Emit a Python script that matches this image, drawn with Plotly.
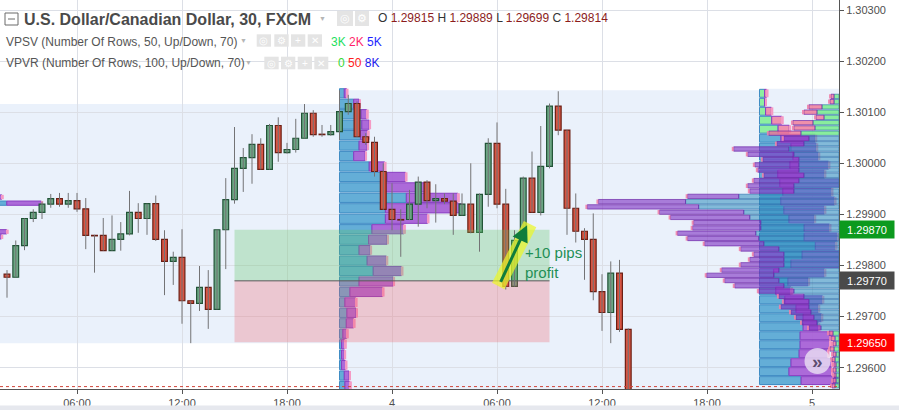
import numpy as np
import plotly.graph_objects as go

FONT = "Liberation Sans"

# ---------------- axes ----------------
X_RANGE = [1.6, 49.543]              # hours since 00:00 of the day before "4"
TICK_HOURS = [6, 12, 18, 24, 30, 36, 42, 48]
TICK_TEXT = ["06:00", "12:00", "18:00", "4", "06:00", "12:00", "18:00", "5"]
PRICE_RANGE = [1.295583, 1.303196]
PRICE_TICKS = [1.296, 1.297, 1.298, 1.299, 1.300, 1.301, 1.302, 1.303]

# ---------------- 30-minute candles ----------------
FIRST_BAR_HOUR = 2.0
BAR_HOURS = 0.5
OPEN = [1.29783, 1.29777, 1.29839, 1.29892, 1.29904, 1.29920, 1.29931, 1.29920, 1.29927, 1.29911,
        1.29859, 1.29859, 1.29829, 1.29851, 1.29862, 1.29904, 1.29892, 1.29921, 1.29851, 1.29808,
        1.29816, 1.29731, 1.29726, 1.29757, 1.29714, 1.29870, 1.29929, 1.29990, 1.30011, 1.30037,
        1.29988, 1.30074, 1.30021, 1.30027, 1.30049, 1.30098, 1.30057, 1.30056, 1.30062, 1.30101,
        1.30117, 1.30052, 1.30041, 1.29984, 1.29910, 1.29890, 1.29890, 1.29920, 1.29963, 1.29927,
        1.29931, 1.29926, 1.29898, 1.29920, 1.29865, 1.29939, 1.30039, 1.29920, 1.29759, 1.29849,
        1.29971, 1.29904, 1.29994, 1.30112, 1.30065, 1.29912, 1.29867, 1.29851, 1.29749, 1.29708,
        1.29785, 1.29675]
HIGH = [1.29791, 1.29849, 1.29892, 1.29910, 1.29925, 1.29940, 1.29942, 1.29942, 1.29942, 1.29932,
        1.29860, 1.29893, 1.29898, 1.29885, 1.29946, 1.29922, 1.29921, 1.29937, 1.29869, 1.29827,
        1.29871, 1.29731, 1.29799, 1.29791, 1.29870, 1.29971, 1.30071, 1.30030, 1.30057, 1.30049,
        1.30077, 1.30090, 1.30040, 1.30087, 1.30116, 1.30104, 1.30075, 1.30075, 1.30143, 1.30134,
        1.30121, 1.30059, 1.30052, 1.30000, 1.29961, 1.29910, 1.29948, 1.29974, 1.29967, 1.29959,
        1.29941, 1.29941, 1.29941, 1.30000, 1.29941, 1.30049, 1.30080, 1.29950, 1.29869, 1.29974,
        1.30023, 1.30073, 1.30117, 1.30141, 1.30065, 1.29941, 1.29873, 1.29902, 1.29783, 1.29808,
        1.29811, 1.29677]
LOW = [1.29737, 1.29777, 1.29830, 1.29885, 1.29891, 1.29913, 1.29915, 1.29913, 1.29905, 1.29832,
       1.29786, 1.29829, 1.29829, 1.29829, 1.29859, 1.29864, 1.29860, 1.29848, 1.29742, 1.29762,
       1.29686, 1.29648, 1.29711, 1.29676, 1.29714, 1.29793, 1.29921, 1.29944, 1.29960, 1.29988,
       1.29988, 1.30003, 1.30019, 1.30021, 1.30049, 1.30052, 1.30052, 1.30054, 1.30045, 1.30095,
       1.30052, 1.30036, 1.29974, 1.29909, 1.29869, 1.29817, 1.29889, 1.29876, 1.29912, 1.29884,
       1.29920, 1.29860, 1.29898, 1.29863, 1.29827, 1.29915, 1.29912, 1.29753, 1.29759, 1.29849,
       1.29904, 1.29898, 1.29990, 1.30055, 1.29860, 1.29845, 1.29772, 1.29732, 1.29672, 1.29648,
       1.29670, 1.29540]
CLOSE = [1.29777, 1.29839, 1.29892, 1.29904, 1.29920, 1.29931, 1.29920, 1.29927, 1.29911, 1.29859,
         1.29858, 1.29829, 1.29851, 1.29862, 1.29904, 1.29892, 1.29921, 1.29851, 1.29808, 1.29816,
         1.29731, 1.29726, 1.29757, 1.29714, 1.29870, 1.29929, 1.29990, 1.30011, 1.30037, 1.29988,
         1.30074, 1.30021, 1.30027, 1.30049, 1.30098, 1.30056, 1.30056, 1.30062, 1.30101, 1.30117,
         1.30052, 1.30041, 1.29984, 1.29910, 1.29890, 1.29889, 1.29920, 1.29963, 1.29927, 1.29931,
         1.29926, 1.29898, 1.29920, 1.29865, 1.29939, 1.30039, 1.29920, 1.29759, 1.29849, 1.29971,
         1.29904, 1.29994, 1.30112, 1.30065, 1.29912, 1.29867, 1.29851, 1.29749, 1.29708, 1.29785,
         1.29675, 1.29545]
LAST_LINE = 1.29563

# ---------------- session volume profiles (VPSV) ----------------
SESSION_START = [-3.0, 21.0, 45.0]
SESSION_HOURS = 24.0
VPSV_WIDTH_FRAC = 0.29

S1_PRICES = [1.29934, 1.29922, 1.29866, 1.29856]
S1_UP = [450, 885, 500, 450]
S1_DOWN = [385, 350, 385, 380]

S2_TOP, S2_ROW = 1.30137, 0.0002046
S2_UP = [47, 140, 213, 220, 207, 193, 140, 293, 470, 453, 660, 453, 453, 320, 287, 193, 273, 333,
         193, 103, 53, 73, 67, 33, 20, 20, 20, 47, 53]
S2_DOWN = [23, 53, 57, 73, 73, 80, 113, 153, 183, 410, 510, 750, 417, 317, 183, 110, 190, 280,
           337, 323, 107, 90, 73, 40, 33, 27, 40, 47, 50]

S3_TOP, S3_ROW = 1.30137, 0.0001757
S3_UP = [50, 50, 60, 120, 183, 210, 310, 330, 300, 180, 200, 230, 210, 240, 290, 440, 440, 550,
         420, 310, 140, 280, 160, 250, 360, 430, 430, 400, 400, 390, 310, 290, 410]
S3_DOWN = [20, 5, 57, 100, 110, 340, 250, 250, 380, 460, 1000, 480, 530, 400, 250, 250, 330, 200,
           370, 480, 500, 200, 150, 370, 220, 180, 150, 310, 290, 280, 400, 420, 370]
S3_VALUE_AREA = (5, 32)

# ---------------- visible range volume profile (VPVR) ----------------
VPVR_TOP, VPVR_ROW = 1.30131, 0.000103
VPVR_WIDTH_FRAC = 0.30
VPVR_UP = [50, 50, 170, 220, 150, 260, 240, 380, 300, 350, 500, 450, 400, 400, 400, 350, 400, 450,
           450, 1000, 1530, 1400, 950, 890, 780, 780, 830, 800, 750, 600, 550, 550, 550, 600, 650,
           600, 550, 450, 350, 300, 300, 280, 250, 220, 180, 60, 40, 30, 50, 30, 40, 30, 30, 30, 30, 40]
VPVR_DOWN = [30, 40, 130, 130, 80, 200, 210, 320, 250, 270, 550, 460, 360, 440, 410, 400, 450, 460,
             440, 510, 870, 1110, 840, 790, 670, 680, 780, 710, 590, 380, 300, 340, 430, 570, 670,
             540, 490, 350, 250, 250, 280, 200, 180, 150, 120, 40, 40, 30, 40, 30, 30, 20, 30, 20, 30, 30]
VPVR_VALUE_AREA = (8, 44)

# ---------------- long position tool ----------------
POS_START, POS_END = 15.0, 33.0
ENTRY, TARGET, STOP = 1.29770, 1.29870, 1.29650

# ---------------- colours ----------------
UP_BODY, UP_EDGE = "#6BA583", "#225437"
DN_BODY, DN_EDGE = "#D75442", "#6B1F14"
WICK = "#737375"
SESSION_BG = "#eaf1fb"
GRID = "#dcdfe6"

PLOT_W, PLOT_H = 839, 389

times = FIRST_BAR_HOUR + BAR_HOURS * np.arange(len(OPEN))
fig = go.Figure()


def rows(top, step, n):
    return top - step * np.arange(n)


def add_profile(prices, up, down, anchor, width_h, direction, step, up_cols, dn_cols,
                up_line, dn_line, tip_col, thick_frac=0.88):
    up = np.asarray(up, float)
    dn = np.asarray(down, float)
    scale = width_h / (up + dn).max()
    ul, dl = up * scale, dn * scale
    n = len(up)
    thick = step * thick_frac
    d = direction
    common = dict(orientation="h", width=thick, hoverinfo="skip", showlegend=False)
    fig.add_trace(go.Bar(y=prices, x=d * ul, base=[anchor] * n,
                         marker=dict(color=up_cols, line=dict(color=up_line, width=1)), **common))
    fig.add_trace(go.Bar(y=prices, x=d * dl, base=anchor + d * ul,
                         marker=dict(color=dn_cols, line=dict(color=dn_line, width=1)), **common))
    fig.add_trace(go.Bar(y=prices, x=[d * 0.11] * n, base=anchor + d * (ul + dl),
                         marker=dict(color=tip_col, line=dict(width=0)), **common))


# session background boxes
sess_bounds = SESSION_START + [SESSION_START[-1] + SESSION_HOURS]
for k in range(2):
    m = (times >= sess_bounds[k]) & (times < sess_bounds[k + 1])
    hi = max(np.array(HIGH)[m])
    lo = min(np.array(LOW)[m])
    fig.add_shape(type="rect", layer="below", xref="x", yref="y",
                  x0=max(sess_bounds[k], X_RANGE[0] - 1), x1=sess_bounds[k + 1],
                  y0=lo, y1=hi, fillcolor=SESSION_BG, line=dict(width=0))
fig.add_shape(type="rect", layer="below", xref="x", yref="y",
              x0=sess_bounds[2], x1=X_RANGE[1] + 1, y0=PRICE_RANGE[0] - 0.001,
              y1=S3_TOP + S3_ROW / 2, fillcolor=SESSION_BG, line=dict(width=0))

VA_UP, VA_DN = "rgba(88,168,212,0.92)", "rgba(166,94,214,0.92)"
OUT_UP, OUT_DN = "rgba(130,238,150,0.9)", "rgba(240,128,160,0.85)"
vpsv_w = VPSV_WIDTH_FRAC * SESSION_HOURS

add_profile(S1_PRICES, S1_UP, S1_DOWN, SESSION_START[0], vpsv_w, 1, 0.000095,
            VA_UP, VA_DN, "#3f8cc4", "#8a3fc2", "#f59ac4")
s2p = rows(S2_TOP, S2_ROW, len(S2_UP))
add_profile(s2p, S2_UP, S2_DOWN, SESSION_START[1], vpsv_w, 1, S2_ROW,
            VA_UP, VA_DN, "#3f8cc4", "#8a3fc2", "#f59ac4")
s3p = rows(S3_TOP, S3_ROW, len(S3_UP))
va3 = [S3_VALUE_AREA[0] <= i <= S3_VALUE_AREA[1] for i in range(len(S3_UP))]
add_profile(s3p, S3_UP, S3_DOWN, SESSION_START[2], vpsv_w, 1, S3_ROW,
            [VA_UP if v else OUT_UP for v in va3], [VA_DN if v else OUT_DN for v in va3],
            "#3f8cc4", "#8a3fc2", "#f59ac4")
vp = rows(VPVR_TOP, VPVR_ROW, len(VPVR_UP))
vav = [VPVR_VALUE_AREA[0] <= i <= VPVR_VALUE_AREA[1] for i in range(len(VPVR_UP))]
add_profile(vp, VPVR_UP, VPVR_DOWN, X_RANGE[1], VPVR_WIDTH_FRAC * (X_RANGE[1] - X_RANGE[0]), -1,
            VPVR_ROW,
            ["rgba(45,140,190,0.55)" if v else "rgba(120,236,140,0.85)" for v in vav],
            ["rgba(128,52,196,0.62)" if v else "rgba(240,120,150,0.8)" for v in vav],
            "rgba(40,110,170,0.6)", "rgba(110,40,170,0.7)", "rgba(240,130,170,0.9)", 0.82)

# long position tool
fig.add_trace(go.Scatter(x=[POS_START, POS_END, POS_END, POS_START, POS_START],
                         y=[ENTRY, ENTRY, TARGET, TARGET, ENTRY], mode="lines", fill="toself",
                         fillcolor="rgba(92,195,99,0.30)", line=dict(width=0),
                         hoverinfo="skip", showlegend=False))
fig.add_trace(go.Scatter(x=[POS_START, POS_END, POS_END, POS_START, POS_START],
                         y=[STOP, STOP, ENTRY, ENTRY, STOP], mode="lines", fill="toself",
                         fillcolor="rgba(238,89,99,0.28)", line=dict(width=0),
                         hoverinfo="skip", showlegend=False))
fig.add_trace(go.Scatter(x=[POS_START, POS_END], y=[ENTRY, ENTRY], mode="lines",
                         line=dict(color="#5a5a5a", width=1), hoverinfo="skip", showlegend=False))

# candles: wicks first, then bodies (bars give exact body width)
wx, wy = [], []
for t, h, l in zip(times, HIGH, LOW):
    wx += [t, t, None]
    wy += [h, l, None]
fig.add_trace(go.Scatter(x=wx, y=wy, mode="lines", line=dict(color=WICK, width=1),
                         hoverinfo="skip", showlegend=False))
o_arr, c_arr = np.array(OPEN), np.array(CLOSE)
rising = c_arr > o_arr
body_lo = np.minimum(o_arr, c_arr)
body_h = np.maximum(np.abs(c_arr - o_arr), 0.000004)
fig.add_trace(go.Bar(x=times, y=body_h, base=body_lo, width=BAR_HOURS * 0.66,
                     marker=dict(color=[UP_BODY if r else DN_BODY for r in rising],
                                 line=dict(color=[UP_EDGE if r else DN_EDGE for r in rising],
                                           width=1.2)),
                     hoverinfo="skip", showlegend=False))

# last price dotted line
fig.add_shape(type="line", xref="paper", yref="y", x0=0, x1=1, y0=LAST_LINE, y1=LAST_LINE,
              line=dict(color="#d0453a", width=1, dash="dot"), layer="above")

# highlighter + arrow + text
fig.add_shape(type="line", xref="x", yref="y", x0=30.07, y0=1.29760, x1=31.89, y1=1.29881,
              line=dict(color="rgba(236,246,40,0.72)", width=14), layer="above")
fig.add_annotation(x=31.72, y=1.29879, ax=30.17, ay=1.29765, axref="x", ayref="y",
                   xref="x", yref="y", text="", showarrow=True, arrowhead=2, arrowsize=1.1,
                   arrowwidth=3, arrowcolor="#0f7d3c")
fig.add_annotation(x=31.5, y=1.29805, xref="x", yref="y", text="+10 pips<br>profit",
                   showarrow=False, xanchor="left", yanchor="middle", align="left",
                   font=dict(family=FONT, size=15, color="#1f8f55"))


def P(x, y):
    return x / PLOT_W, (PLOT_H - y) / PLOT_H


def text(x, y, s, size=12, color="#555555", weight=None, anchor="left"):
    xp, yp = P(x, y)
    f = dict(family=FONT, size=size, color=color)
    if weight:
        f["weight"] = weight
    fig.add_annotation(x=xp, y=yp, xref="paper", yref="paper", text=s, showarrow=False,
                       xanchor=anchor, yanchor="middle", font=f, borderpad=0)


def rect(x0, y0, x1, y1, fill=None, line=None, lw=1):
    a0, b0 = P(x0, y0)
    a1, b1 = P(x1, y1)
    fig.add_shape(type="rect", xref="paper", yref="paper", x0=a0, y0=b0, x1=a1, y1=b1,
                  fillcolor=fill, line=dict(color=line, width=lw if line else 0), layer="above")


# header
rect(5, 13, 18, 25, line="#6a6a6a")
a0, b0 = P(8, 19); a1, _ = P(15, 19)
fig.add_shape(type="line", xref="paper", yref="paper", x0=a0, x1=a1, y0=b0, y1=b0,
              line=dict(color="#6a6a6a", width=1), layer="above")
text(23, 19, "U.S. Dollar/Canadian Dollar, 30, FXCM", size=16, color="#4a4a4a", weight="bold")
text(322.5, 18.5, "▼", size=7, color="#b5b5b5", anchor="center")
for x0, x1, g in [(337, 353, "◎"), (355, 369, "⚙")]:
    rect(x0, 11, x1, 26, fill="#e4e4e4")
    text((x0 + x1) / 2, 18.5, g, size=11, color="white", anchor="center")
RED = "#8c1c1c"
text(377, 18.5, "O <span style='color:%s'>1.29815</span> H <span style='color:%s'>1.29889</span> "
     "L <span style='color:%s'>1.29699</span> C <span style='color:%s'>1.29814</span>"
     % (RED, RED, RED, RED), size=12, color="#333333")

text(5, 41.5, "VPSV (Number Of Rows, 50, Up/Down, 70)", size=12, color="#555555")
text(243.3, 40.5, "▼", size=7, color="#b5b5b5", anchor="center")
for (x0, x1), g in zip([(256.7, 271), (274.3, 288.7), (291, 305.3), (307.7, 322)], "◎⚙+✕"):
    rect(x0, 34.3, x1, 46.7, fill="#e4e4e4")
    text((x0 + x1) / 2, 40.5, g, size=10, color="white", anchor="center")
text(330, 41.5, "<span style='color:#22e05e'>3K</span> <span style='color:#ff1f6b'>2K</span> "
     "<span style='color:#1f1fff'>5K</span>", size=12)

text(5, 63.3, "VPVR (Number Of Rows, 100, Up/Down, 70)", size=12, color="#555555")
text(248.3, 62.5, "▼", size=7, color="#b5b5b5", anchor="center")
for (x0, x1), g in zip([(264.3, 278.7), (281, 295.3), (297.7, 312), (314.3, 328.3)], "◎⚙+✕"):
    rect(x0, 56.7, x1, 69.3, fill="#e4e4e4")
    text((x0 + x1) / 2, 63, g, size=10, color="white", anchor="center")
text(337, 63.3, "<span style='color:#36d936'>0</span> <span style='color:#ff2020'>50</span> "
     "<span style='color:#2020ee'>8K</span>", size=12)

# right-axis price labels of the position tool
for val, col in [(TARGET, "#0c9a1e"), (ENTRY, "#4a4a4a"), (STOP, "#ff0000")]:
    fig.add_annotation(x=1, y=val, xref="paper", yref="y", text="%.5f" % val, showarrow=False,
                       xanchor="left", yanchor="middle", bgcolor=col, borderpad=2, width=50,
                       height=13, align="center", font=dict(family=FONT, size=11, color="white"))

# scroll button
c0, d0 = P(804.5, 348)
c1, d1 = P(830.5, 374)
fig.add_shape(type="circle", xref="paper", yref="paper", x0=c0, y0=d0, x1=c1, y1=d1,
              fillcolor="rgba(236,228,244,0.78)", line=dict(width=0), layer="above")
text(817.5, 361, "»", size=19, color="#5d4d70", anchor="center", weight="bold")

# bottom grey strip
fig.add_shape(type="rect", xref="paper", yref="paper", x0=-0.01, x1=1.1,
              y0=(PLOT_H - 412) / PLOT_H, y1=(PLOT_H - 405.5) / PLOT_H,
              fillcolor="#e6e8ee", line=dict(width=0), layer="above")

fig.update_layout(
    width=899, height=410, margin=dict(l=0, r=60, t=0, b=21, autoexpand=False),
    paper_bgcolor="white", plot_bgcolor="white", barmode="overlay", showlegend=False,
    font=dict(family=FONT, size=11, color="#4f4f4f"),
    xaxis=dict(range=X_RANGE, tickvals=TICK_HOURS, ticktext=TICK_TEXT, showgrid=True,
               gridcolor=GRID, gridwidth=1, zeroline=False, showline=True, linecolor="#555555",
               linewidth=1, ticks="outside", ticklen=4, tickcolor="#555555", automargin=False,
               fixedrange=True),
    yaxis=dict(side="right", range=PRICE_RANGE, tickvals=PRICE_TICKS, tickformat=".5f",
               showgrid=True, gridcolor=GRID, gridwidth=1, zeroline=False, showline=True,
               linecolor="#555555", linewidth=1, ticks="outside", ticklen=4, automargin=False,
               tickcolor="#555555", fixedrange=True),
)

fig.write_html("out.html", config={"displayModeBar": False},
               post_script="document.body.style.margin='0px';")
